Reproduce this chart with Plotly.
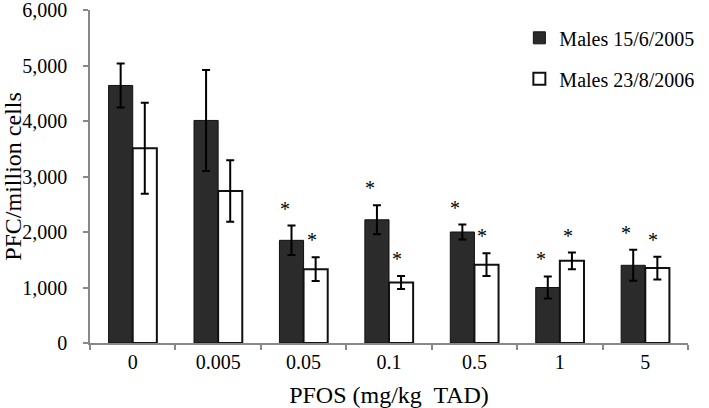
import plotly.graph_objects as go

categories = ["0", "0.005", "0.05", "0.1", "0.5", "1", "5"]
males_2005 = [4640, 4010, 1850, 2220, 2000, 1000, 1400]
males_2005_err = [395, 910, 265, 260, 135, 200, 280]
males_2006 = [3510, 2740, 1330, 1090, 1410, 1480, 1350]
males_2006_err = [820, 555, 215, 115, 205, 150, 205]
sig_2005 = [False, False, True, True, True, True, True]
sig_2006 = [False, False, True, True, True, True, True]

FONT = "Liberation Serif"

fig = go.Figure()
fig.add_trace(go.Bar(
    x=categories, y=males_2005, name="Males 15/6/2005",
    marker=dict(color="#2b2b2b", line=dict(color="#111111", width=1)),
    error_y=dict(type="data", array=males_2005_err, color="black", thickness=2, width=4),
    legendgroup="a",
))
fig.add_trace(go.Bar(
    x=categories, y=males_2006, name="Males 23/8/2006",
    marker=dict(color="white", line=dict(color="#111111", width=2)),
    error_y=dict(type="data", array=males_2006_err, color="black", thickness=2, width=4),
    legendgroup="b",
))

for i, (v, e, s) in enumerate(zip(males_2005, males_2005_err, sig_2005)):
    if s:
        fig.add_annotation(x=i, y=v + e, text="*", showarrow=False, xshift=-19, yshift=4,
                           yanchor="bottom", font=dict(family=FONT, size=20, color="black"))
for i, (v, e, s) in enumerate(zip(males_2006, males_2006_err, sig_2006)):
    if s:
        fig.add_annotation(x=i, y=v + e, text="*", showarrow=False, xshift=8, yshift=4,
                           yanchor="bottom", font=dict(family=FONT, size=20, color="black"))

fig.update_layout(
    width=709, height=408,
    margin=dict(l=90, r=12, t=10, b=65),
    paper_bgcolor="white", plot_bgcolor="white",
    font=dict(family=FONT, size=20, color="black"),
    barmode="group", bargap=0.435, bargroupgap=0,
    showlegend=True,
    legend=dict(x=1.019, y=0.975, xanchor="right", yanchor="top",
                bgcolor="rgba(0,0,0,0)", tracegroupgap=12, traceorder="grouped",
                font=dict(family=FONT, size=20, color="black")),
)
fig.update_xaxes(
    type="category", automargin=False, showline=True, linecolor="#888888", linewidth=1.5,
    ticks="outside", tickson="boundaries", ticklen=5, tickcolor="#888888", tickwidth=1.5,
    showgrid=False, zeroline=False,
    title=dict(text="PFOS (mg/kg  TAD)", standoff=14),
)
fig.update_yaxes(
    range=[0, 6000], dtick=1000, tickformat=",d", automargin=False,
    showline=True, linecolor="#888888", linewidth=1.5,
    ticks="outside", ticklen=5, tickcolor="#888888", tickwidth=1.5,
    showgrid=False, zeroline=False, ticklabelstandoff=12, ticklabeloverflow="allow",
    title=dict(text="PFC/million cells", standoff=6),
)

fig.write_html("out.html", config={"displayModeBar": False},
               post_script="document.body.style.margin='0';")
